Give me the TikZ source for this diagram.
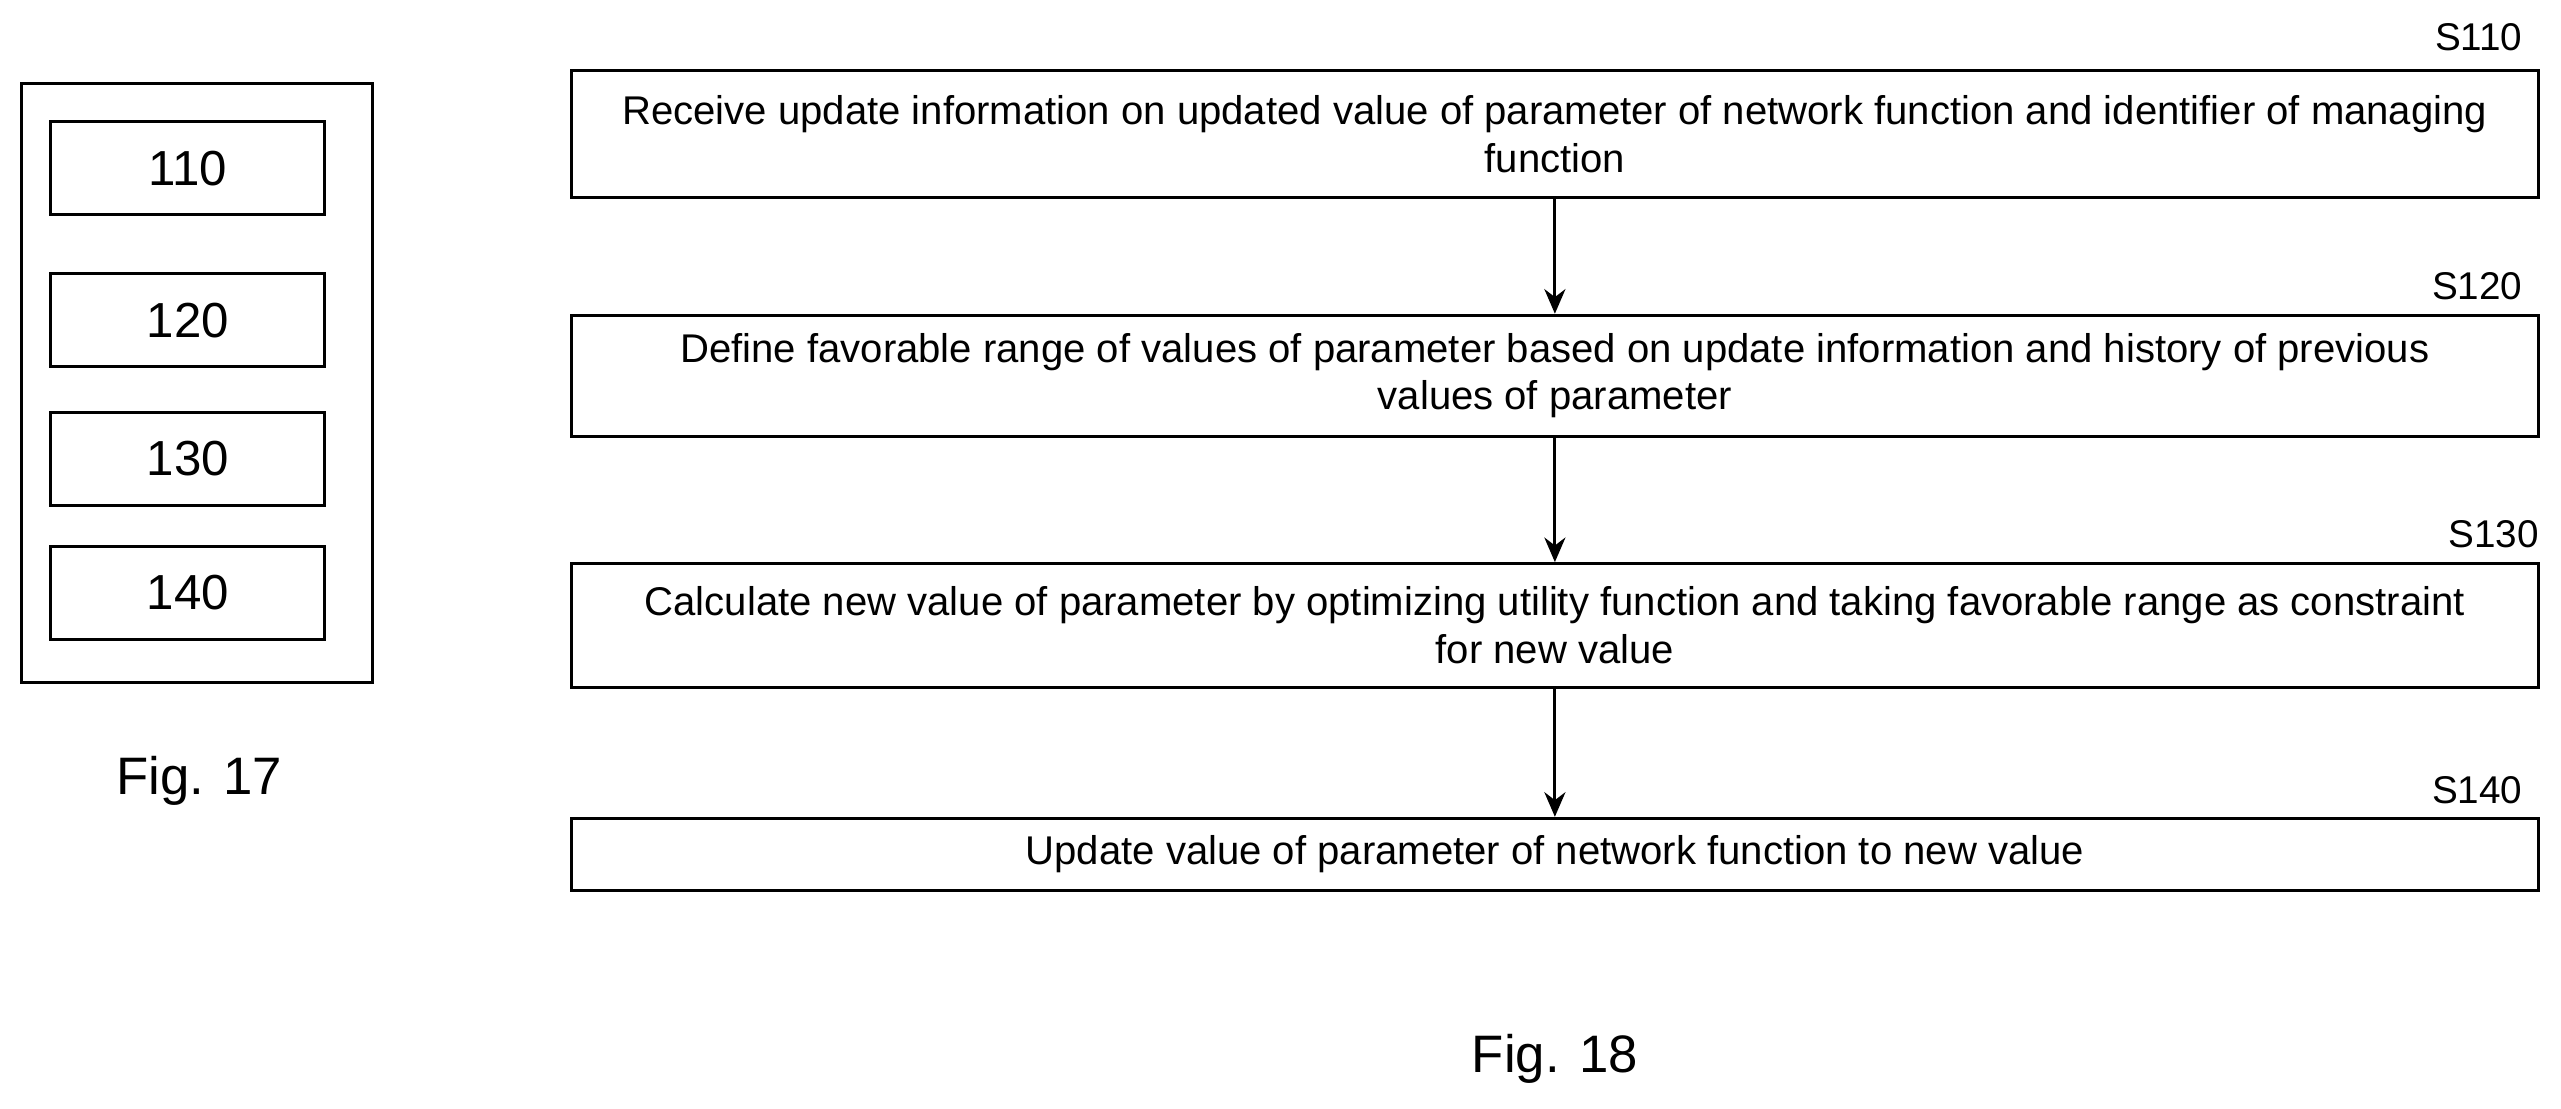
\documentclass[tikz,border=0pt]{standalone}
\usepackage{fontspec}
\setmainfont{Liberation Sans}
\usetikzlibrary{positioning,arrows.meta}
\tikzset{stepbox/.style={draw,thick,minimum width=19.66cm,align=center,font=\fontsize{11.4}{13.6}\selectfont,inner sep=0pt},
  blk/.style={draw,thick,minimum width=2.74cm,minimum height=0.93cm,font=\fontsize{14}{16}\selectfont},
  tag/.style={anchor=south east,font=\fontsize{11}{12}\selectfont,inner sep=1pt},
  flow/.style={-{Stealth[length=7pt,width=6pt]},thick}}
\begin{document}
\begin{tikzpicture}[x=0.01633cm,y=-0.01633cm]
\useasboundingbox (0,0) rectangle (1568,679);
% Fig. 17
\draw[thick] (13,51) rectangle (228,418);
\node[blk] (b110) at (115,103) {110};
\node[blk] (b120) at (115,196) {120};
\node[blk] (b130) at (115,281) {130};
\node[blk] (b140) at (115,363) {140};
\node[font=\fontsize{15}{17}\selectfont] (f17) at (122,478) {Fig. 17};

% Fig. 18
\node[stepbox,minimum height=1.27cm] (s110) at (952,82) {Receive update information on updated value of parameter of network function and identifier of managing\\function};
\node[stepbox,minimum height=1.21cm] (s120) at (952,230) {Define favorable range of values of parameter based on update information and history of previous\\values of parameter};
\node[stepbox,minimum height=1.24cm] (s130) at (952,383) {Calculate new value of parameter by optimizing utility function and taking favorable range as constraint\\for new value};
\node[stepbox,minimum height=0.72cm] (s140) at (952,523) {Update value of parameter of network function to new value};

\node[tag] (t110) at (1547,34) {S110};
\node[tag] (t120) at (1547,186) {S120};
\node[tag] (t130) at (1557,338) {S130};
\node[tag] (t140) at (1547,495) {S140};

\draw[flow] (s110) -- (s120);
\draw[flow] (s120) -- (s130);
\draw[flow] (s130) -- (s140);

\node[font=\fontsize{15}{17}\selectfont] (f18) at (952,648) {Fig. 18};
\end{tikzpicture}
\end{document}
